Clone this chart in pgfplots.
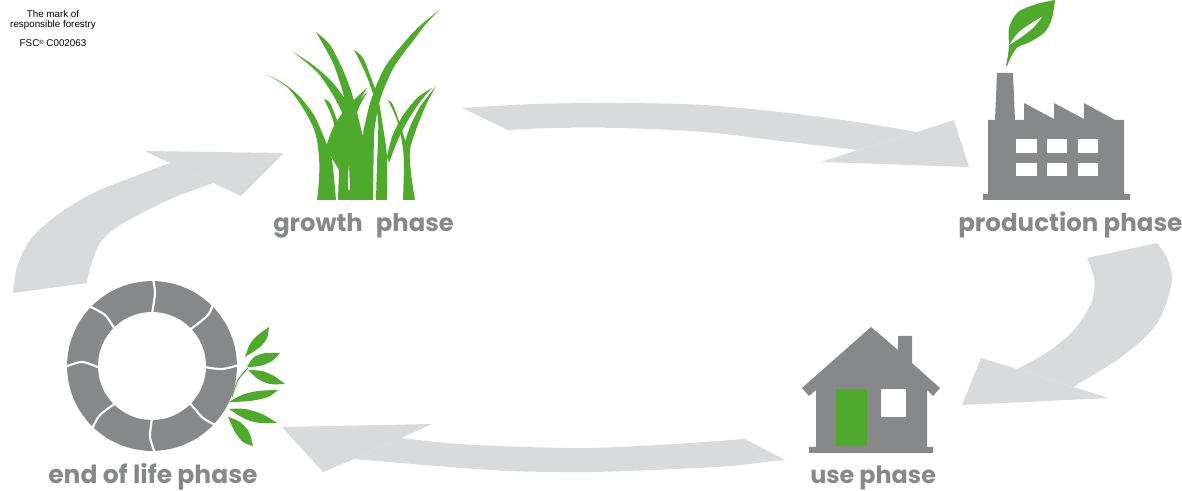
\documentclass[border=0pt]{standalone}
\usepackage{fontspec}
\usepackage{pgfplots}
\usepgfplotslibrary{fillbetween}
\pgfplotsset{compat=1.18}
\setmainfont{Poppins}
\newfontfamily\fscfont{Liberation Sans}
\definecolor{arrowgray}{HTML}{D9DADB}
\definecolor{icongray}{HTML}{87888A}
\definecolor{leafgreen}{HTML}{4EA92D}
\tikzset{
  phasetext/.style={text=icongray, font=\fontsize{#1}{20}\selectfont\bfseries, anchor=base west, inner sep=0pt},
  fsctext/.style={text=black, font=\fontsize{7.35}{8}\fscfont, anchor=base, inner sep=0pt},
}
% a shape between two smooth edges, closed by straight lines
\newcommand{\lens}[3]{%
  \addplot[name path=edgea, smooth] coordinates {#2};
  \addplot[name path=edgeb, smooth] coordinates {#3};
  \addplot[fill=#1] fill between[of=edgea and edgeb, reverse=true];
}
% all coordinates are pixels of the 1182x491 picture, y pointing down
\begin{document}
\begin{tikzpicture}
\path (0,0) rectangle (886.5pt,368.25pt);
\begin{axis}[
  at={(0,0)}, anchor=south west,
  width=886.5pt, height=368.25pt, scale only axis,
  xmin=0, xmax=1182, ymin=0, ymax=491, y dir=reverse,
  hide axis,
  every axis plot/.append style={draw=none},
]
% big arrows: body, then head
\lens{arrowgray}{(13,293) (17,267) (30,240) (57,215) (93,193) (133,177) (170,163)}{(87,283) (90,268) (100,243) (117,227) (140,214) (173,198) (213,183)}
\addplot[fill=arrowgray] coordinates {(170,163) (145,151) (284,153) (241,196) (213,183)} --cycle;
\lens{arrowgray}{(462,108) (535,104) (619,103) (704,105) (789,113) (857,122) (917,132)}{(508,130) (552,128) (619,128) (704,132) (789,142) (858,150)}
\addplot[fill=arrowgray] coordinates {(917,132) (954,120) (969,167) (821,162) (858,150)} --cycle;
\lens{arrowgray}{(1157,243) (1167,258) (1172,278) (1168,298) (1158,322) (1140,342) (1117,360) (1093,375) (1073,387)}{(1087,258) (1094,278) (1093,298) (1083,318) (1067,337) (1043,355) (1017,369)}
\addplot[fill=arrowgray] coordinates {(1073,387) (1109,398) (962,405) (981,358) (1017,369)} --cycle;
\lens{arrowgray}{(401,438) (458,444) (525,447) (592,448) (675,444) (745,439)}{(354,459) (425,465) (508,471) (592,472) (675,469) (730,466) (765,462)}
\addplot[fill=arrowgray] coordinates {(282,427) (432,424) (401,438) (354,459) (323,472)} --cycle;
\addplot[fill=arrowgray] coordinates {(745,439) (785,460) (765,462)} --cycle;
% grass
\lens{leafgreen}{(267,75) (287,87) (303,108) (315,132) (319,157) (319,180) (317,200)}{(267,75) (283,83) (300,97) (315,117) (327,145) (332,160) (336,200)}
\lens{leafgreen}{(293,52) (317,72) (333,95) (345,120) (347,140)}{(293,52) (313,65) (333,83) (350,107) (362,133) (366,150)}
\lens{leafgreen}{(316,32) (333,63) (343,93) (348,117) (350,133)}{(316,32) (330,45) (343,70) (353,97) (362,133)}
\lens{leafgreen}{(439,10) (421,25) (409,37) (385,67) (371,100) (363,133)}{(439,10) (425,25) (416,37) (394,67) (380,100) (374,133) (373,150)}
\addplot[fill=leafgreen] coordinates {(338,200) (339,170) (333,160) (327,147) (333,128) (340,118) (350,118) (362,135) (374,130) (373,200)} --cycle;
\lens{leafgreen}{(354,50) (365,72) (374,97) (378,120) (378,140) (377,165) (376,200)}{(354,50) (363,58) (373,83) (378,97) (383,127) (387,157) (387,200)}
\lens{leafgreen}{(432,88) (417,98) (402,117) (392,137) (387,157)}{(432,88) (420,102) (407,122) (397,142) (389,163)}
\lens{leafgreen}{(436,86) (420,107) (410,127) (404,147) (404,167) (403,200)}{(436,86) (427,103) (417,127) (410,150) (411,173) (415,200)}
\lens{leafgreen}{(388,100) (397,120) (402,142) (404,157)}{(388,100) (393,105) (401,127) (407,147)}
\lens{leafgreen}{(324,99) (332,117) (337,137) (339,147)}{(324,99) (330,103) (337,120) (345,140)}
\lens{leafgreen}{(367,88) (347,107) (333,128) (326,147)}{(367,88) (352,113) (337,137) (332,155)}
\lens{leafgreen}{(368,91) (358,102) (350,115) (345,122)}{(368,91) (360,105) (352,125) (347,130)}
\addplot[fill=white] coordinates {(349,165) (350,190) (348,190) (348,175)} --cycle;
% factory
\addplot[fill=icongray] coordinates {(983,194) (988,194) (988,120) (995,120) (997,73) (1013,73) (1015,120) (1024,120) (1024,103) (1054,119) (1054,103) (1084,119) (1084,103) (1115,120) (1124,120) (1124,194) (1130,194) (1130,200) (983,200)} --cycle;
\addplot[fill=white] coordinates {(1016,139) (1037,139) (1037,153) (1016,153)} --cycle;
\addplot[fill=white] coordinates {(1047,139) (1067,139) (1067,153) (1047,153)} --cycle;
\addplot[fill=white] coordinates {(1078,139) (1098,139) (1098,153) (1078,153)} --cycle;
\addplot[fill=white] coordinates {(1016,163) (1037,163) (1037,176) (1016,176)} --cycle;
\addplot[fill=white] coordinates {(1047,163) (1067,163) (1067,176) (1047,176)} --cycle;
\addplot[fill=white] coordinates {(1078,163) (1098,163) (1098,176) (1078,176)} --cycle;
\lens{leafgreen}{(1006,66) (1008,55) (1009,45) (1009,28) (1018,12) (1037,4) (1055,0)}{(1007,66) (1012,55) (1018,47) (1030,42) (1045,32) (1052,18) (1055,0)}
\addplot[fill=white, smooth] coordinates {(1009,45) (1018,33) (1030,24) (1042,17)};
\addplot[fill=white, smooth] coordinates {(1042,17) (1033,28) (1020,38) (1009,45)};
% house
\addplot[fill=icongray] coordinates {(871,327) (898,350) (898,336) (912,336) (912,363) (940,388) (933,396) (927,390) (927,447) (933,447) (933,453) (809,453) (809,447) (816,447) (816,390) (809,396) (802,388)} --cycle;
\addplot[fill=leafgreen] coordinates {(836,389) (867,389) (867,446) (836,446)} --cycle;
\addplot[fill=white] coordinates {(881,389) (906,389) (906,417) (881,417)} --cycle;
% ring
\addplot[fill=icongray, smooth cycle] coordinates {(237,366) (234.1,344) (225.6,323.5) (212.1,305.9) (194.5,292.4) (174,283.9) (152,281) (130,283.9) (109.5,292.4) (91.9,305.9) (78.4,323.5) (69.9,344) (67,366) (69.9,388) (78.4,408.5) (91.9,426.1) (109.5,439.6) (130,448.1) (152,451) (174,448.1) (194.5,439.6) (212.1,426.1) (225.6,408.5) (234.1,388)};
\addplot[fill=white, smooth cycle] coordinates {(206,366) (204.2,352) (198.8,339) (190.2,327.8) (179,319.2) (166,313.8) (152,312) (138,313.8) (125,319.2) (113.8,327.8) (105.2,339) (99.8,352) (98,366) (99.8,380) (105.2,393) (113.8,404.2) (125,412.8) (138,418.2) (152,420) (166,418.2) (179,412.8) (190.2,404.2) (198.8,393) (204.2,380)};
\addplot[draw=white, line width=1.6pt, smooth] coordinates {(153,279) (155,293) (152,314)};
\addplot[draw=white, line width=1.6pt, smooth] coordinates {(213,304) (208,315) (191,329)};
\addplot[draw=white, line width=1.6pt, smooth] coordinates {(239,365) (222,369) (204,367)};
\addplot[draw=white, line width=1.6pt, smooth] coordinates {(216,425) (203,418) (189,402)};
\addplot[draw=white, line width=1.6pt, smooth] coordinates {(155,453) (150,437) (152,419)};
\addplot[draw=white, line width=1.6pt, smooth] coordinates {(92,429) (100,415) (116,403)};
\addplot[draw=white, line width=1.6pt, smooth] coordinates {(65,367) (82,362) (100,368)};
\addplot[draw=white, line width=1.6pt, smooth] coordinates {(89,306) (105,315) (114,328)};
% leaves on the ring
\lens{leafgreen}{(245,357) (250,344) (258,335) (269,327)}{(245,357) (260,347) (267,338) (269,327)}
\lens{leafgreen}{(247,367) (254,357) (266,353) (280,353)}{(247,367) (260,366) (272,361) (280,353)}
\lens{leafgreen}{(248,370) (262,371) (274,376) (285,384)}{(248,370) (258,379) (270,384) (285,384)}
\lens{leafgreen}{(229,402) (242,395) (258,391) (278,390)}{(229,402) (250,401) (268,397) (278,390)}
\lens{leafgreen}{(229,409) (245,409) (262,414) (277,423)}{(229,409) (245,419) (260,423) (277,423)}
\lens{leafgreen}{(228,417) (240,422) (249,432) (253,446)}{(228,417) (235,432) (243,442) (253,446)}
\addplot[draw=leafgreen, line width=0.8pt, smooth] coordinates {(232,397) (238,380) (248,368)};
% labels
\node[phasetext=18.2] at (axis cs:273,232) {growth\hspace{0.33em} phase};
\node[phasetext=18.4] at (axis cs:958,232) {production phase};
\node[phasetext=17.9] at (axis cs:810,484) {use phase};
\node[phasetext=18.75] at (axis cs:48,484) {end of life phase};
\node[fsctext] at (axis cs:53,18) {The mark of};
\node[fsctext] at (axis cs:53,28) {responsible forestry};
\node[fsctext] at (axis cs:53,47) {FSC{\fontsize{4.5}{5}\selectfont\raisebox{2pt}{®}} C002063};
\end{axis}
\end{tikzpicture}
\end{document}
